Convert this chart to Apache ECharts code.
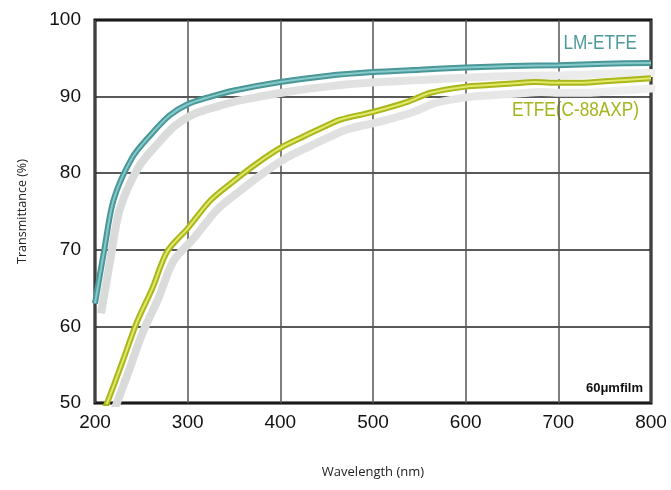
<!DOCTYPE html>
<html><head><meta charset="utf-8">
<script src="https://cdn.jsdelivr.net/npm/echarts@6/dist/echarts.min.js"></script>
<style>html,body{margin:0;padding:0;background:#fff}#c{width:671px;height:490px}</style>
</head><body><div id="c"></div>
<script>
const xTicks = [200, 300, 400, 500, 600, 700, 800];
const yTicks = [50, 60, 70, 80, 90, 100];
const lmWave = [200, 210, 220, 240, 260, 280, 300, 325, 350, 400, 450, 500, 550, 600, 650, 700, 750, 800];
const lmTrans = [63, 70, 76.5, 82, 85, 87.5, 89, 90, 90.8, 91.9, 92.7, 93.2, 93.5, 93.8, 94.0, 94.1, 94.3, 94.4];
const etWave = [205, 213, 230, 245, 262, 278, 300, 325, 350, 375, 400, 425, 446, 465, 500, 537, 562, 600, 625, 650, 675, 700, 725, 750, 800];
const etTrans = [48, 50, 55.5, 60.5, 65, 69.8, 72.8, 76.5, 79, 81.3, 83.3, 84.8, 86, 87, 88, 89.3, 90.5, 91.3, 91.5, 91.7, 91.9, 91.8, 91.8, 92, 92.4];
const seriesNames = ['LM-ETFE', 'ETFE(C-88AXP)'];

const pair = (xs, ys) => xs.map((x, i) => [x, ys[i]]);
const lm = pair(lmWave, lmTrans);
const et = pair(etWave, etTrans);
const FONT = "'Liberation Sans Narrow', 'Liberation Sans', Arial, sans-serif";

const shadowGrad = () => new echarts.graphic.LinearGradient(0, 0, 1, 0, [
  {offset: 0, color: '#d8d9d9'}, {offset: 0.6, color: '#e4e4e4'}, {offset: 1, color: '#f0f0f0'}
]);

const chart = echarts.init(document.getElementById('c'), null, {renderer: 'canvas'});
const G = {left: 95, right: 20, top: 20, bottom: 87};
chart.setOption({
  animation: false,
  grid: [
    Object.assign({show: true, borderColor: '#000', borderWidth: 3, backgroundColor: 'transparent'}, G),
    Object.assign({show: false}, G)
  ],
  xAxis: [
    {type: 'value', gridIndex: 0, min: 200, max: 800, interval: 100,
     axisLine: {show: false}, axisTick: {show: false},
     axisLabel: {fontFamily: FONT, fontSize: 19, color: '#111', margin: 10},
     splitLine: {lineStyle: {color: '#555', width: 1.5}},
     name: 'Wavelength (nm)', nameLocation: 'middle', nameGap: 63,
     nameTextStyle: {fontFamily: "'Open Sans', sans-serif", fontSize: 13, color: '#222'}},
    {type: 'value', gridIndex: 1, min: 193.5, max: 793.5, show: false, splitLine: {show: false}}
  ],
  yAxis: [
    {type: 'value', gridIndex: 0, min: 50, max: 100, interval: 10,
     axisLine: {show: false}, axisTick: {show: false},
     axisLabel: {fontFamily: FONT, fontSize: 19, color: '#111', margin: 14},
     splitLine: {lineStyle: {color: '#222', width: 1.5}},
     name: 'Transmittance (%)', nameLocation: 'middle', nameGap: 66, nameRotate: 90,
     nameTextStyle: {fontFamily: "'Open Sans', sans-serif", fontSize: 12.5, color: '#222'}},
    {type: 'value', gridIndex: 1, min: 51.3, max: 101.3, show: false, splitLine: {show: false}}
  ],
  series: [
    {type: 'line', xAxisIndex: 1, yAxisIndex: 1, data: lm, smooth: 0.3, symbol: 'none',
     lineStyle: {color: shadowGrad(), width: 8}, z: 1},
    {type: 'line', xAxisIndex: 1, yAxisIndex: 1, data: et, smooth: 0.3, symbol: 'none',
     lineStyle: {color: shadowGrad(), width: 8}, z: 1},
    {name: seriesNames[0], type: 'line', data: lm, smooth: 0.3, symbol: 'none',
     lineStyle: {color: '#4a9798', width: 6}, z: 3},
    {type: 'line', data: lm, smooth: 0.3, symbol: 'none',
     lineStyle: {color: '#86c9cb', width: 2}, z: 4},
    {name: seriesNames[1], type: 'line', data: et, smooth: 0.3, symbol: 'none',
     lineStyle: {color: '#a9b71c', width: 6}, z: 3},
    {type: 'line', data: et, smooth: 0.3, symbol: 'none',
     lineStyle: {color: '#e2e868', width: 2}, z: 4}
  ],
  graphic: [
    {type: 'text', x: 637, y: 33, scaleX: 0.86, style: {text: seriesNames[0], textAlign: 'right', fontFamily: FONT, fontSize: 20, fill: '#4e9a9b'}},
    {type: 'text', x: 639, y: 100, scaleX: 0.86, style: {text: seriesNames[1], textAlign: 'right', fontFamily: FONT, fontSize: 20, fill: '#a5b51c'}},
    {type: 'text', x: 643, y: 382, style: {text: '60\u03bcmfilm', textAlign: 'right', fontFamily: "'Liberation Sans', Arial, sans-serif", fontSize: 13, fontWeight: 'bold', fill: '#111'}}
  ]
});
</script></body></html>
